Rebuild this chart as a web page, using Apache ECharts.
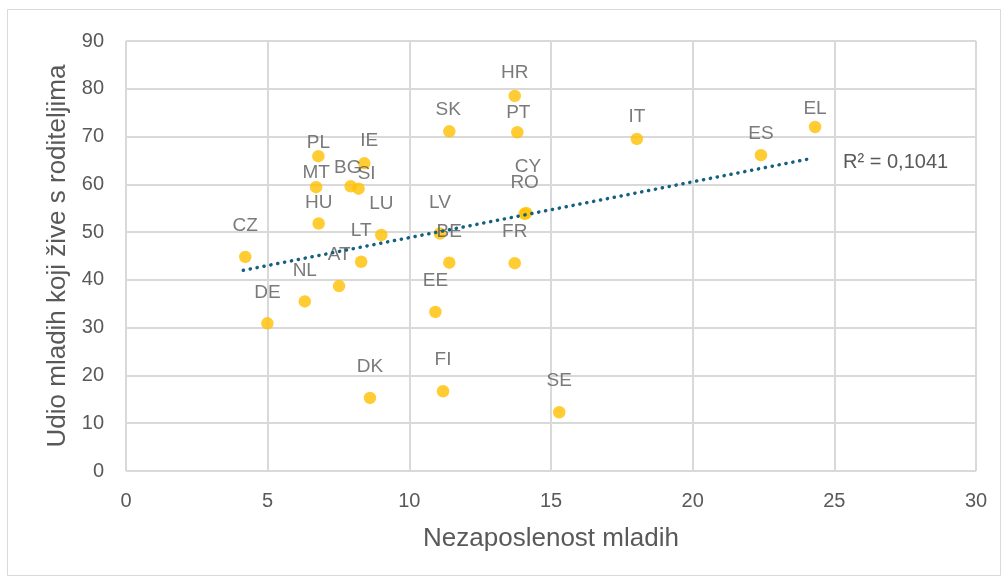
<!DOCTYPE html>
<html>
<head>
    <meta charset="utf-8">
    <title>Nezaposlenost mladih i udio mladih koji žive s roditeljima</title>
    <script src="https://cdn.jsdelivr.net/npm/echarts@6.0.0/dist/echarts.min.js"></script>
    <style>
      body { margin: 0; background: #fff; }
      #chart { width: 1006px; height: 580px; }
    </style>
</head>
<body>
    <div id="chart"></div>
    <script>
        // country codes, youth unemployment (x), share living with parents (y)
        var countries = ['CZ', 'DE', 'NL', 'HU', 'MT', 'PL', 'AT', 'BG', 'SI', 'LT', 'IE', 'DK', 'LU', 'EE',
                         'LV', 'FI', 'SK', 'BE', 'HR', 'FR', 'PT', 'CY', 'RO', 'SE', 'IT', 'ES', 'EL'];
        var unemployment = [4.21, 4.99, 6.31, 6.80, 6.71, 6.79, 7.52, 7.93, 8.21, 8.30, 8.41, 8.61, 9.01, 10.92,
                            11.08, 11.19, 11.41, 11.41, 13.72, 13.72, 13.81, 14.12, 14.07, 15.29, 18.03, 22.41, 24.32];
        var livingWithParents = [44.8, 30.9, 35.5, 51.8, 59.4, 65.9, 38.7, 59.6, 59.1, 43.8, 64.4, 15.3, 49.4, 33.3,
                                 49.7, 16.7, 71.1, 43.6, 78.5, 43.5, 70.9, 54.0, 53.8, 12.3, 69.5, 66.1, 72.0];

        // linear trendline end points as drawn in the picture
        var trendX = [4.14, 24.18];
        var trendY = [42.0, 65.4];
        var rSquared = '0,1041';

        var xTicks = { min: 0, max: 30, step: 5 };
        var yTicks = { min: 0, max: 90, step: 10 };

        // labels that were moved by hand in the original: [dx, gap above point]
        var labelNudge = {
          PL: [0, 13], MT: [0, 14], SI: [8, 15], BG: [-3, 18], EL: [0, 18], PT: [1, 19],
          HU: [0, 21], ES: [0, 21], IT: [0, 22], SK: [-1, 22], IE: [5, 23], HR: [0, 23], CY: [2, 46]
        };

        var textColor = '#595959';
        var font = '"Liberation Sans", Arial, sans-serif';

        var points = countries.map(function (c, i) {
          var n = labelNudge[c] || [0, 31];
          return {
            name: c,
            value: [unemployment[i], livingWithParents[i]],
            label: { offset: [n[0], -n[1]] }
          };
        });

        var chart = echarts.init(document.getElementById('chart'));
        chart.setOption({
          animation: false,
          graphic: [{
            type: 'rect',
            shape: { x: 7.5, y: 9.5, width: 993, height: 566 },
            style: { fill: 'none', stroke: '#d9d9d9', lineWidth: 1 },
            silent: true
          }],
          grid: { left: 126, right: 30, top: 41, bottom: 109 },
          xAxis: {
            type: 'value',
            min: xTicks.min, max: xTicks.max, interval: xTicks.step,
            name: 'Nezaposlenost mladih',
            nameLocation: 'middle',
            nameGap: 55,
            nameTextStyle: { color: textColor, fontSize: 26, fontFamily: font },
            axisLine: { show: false },
            axisTick: { show: false },
            axisLabel: { color: textColor, fontSize: 20, fontFamily: font, margin: 20 },
            splitLine: { show: true, lineStyle: { color: '#d9d9d9', width: 2 } }
          },
          yAxis: {
            type: 'value',
            min: yTicks.min, max: yTicks.max, interval: yTicks.step,
            name: 'Udio mladih koji žive s roditeljima',
            nameLocation: 'middle',
            nameGap: 54,
            nameTextStyle: { color: textColor, fontSize: 26, fontFamily: font },
            axisLine: { show: false },
            axisTick: { show: false },
            axisLabel: { color: textColor, fontSize: 20, fontFamily: font, margin: 22 },
            splitLine: { show: true, lineStyle: { color: '#d9d9d9', width: 2 } }
          },
          series: [{
            type: 'line',
            data: [[trendX[0], trendY[0]], [trendX[1], trendY[1]]],
            showSymbol: false,
            symbol: 'none',
            lineStyle: { color: '#156082', width: 3.5, type: [0.2, 6.8], cap: 'round' },
            endLabel: {
              show: true,
              distance: 32,
              offset: [0, 4],
              formatter: 'R² = ' + rSquared,
              color: textColor,
              fontSize: 20,
              fontFamily: font
            },
            z: 3
          }, {
            type: 'scatter',
            data: points,
            symbol: 'circle',
            symbolSize: 12.5,
            itemStyle: { color: '#FFC000' },
            label: {
              show: true,
              position: 'inside',
              formatter: '{b}',
              color: textColor,
              fontSize: 19,
              fontFamily: font
            },
            z: 2
          }]
        });
    </script>
</body>
</html>
